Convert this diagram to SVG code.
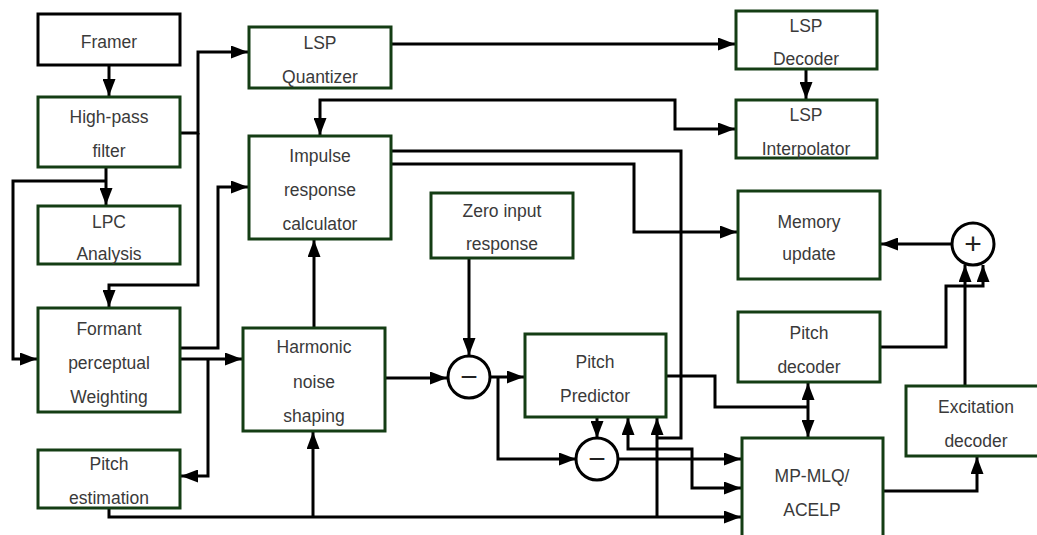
<svg xmlns="http://www.w3.org/2000/svg" width="1037" height="535" viewBox="0 0 1037 535">
<style>
.box{fill:#fff;stroke:#143d14;stroke-width:3}
.blk{fill:#fff;stroke:#000;stroke-width:3}
.t{font-family:"Liberation Sans",Arial,sans-serif;font-size:17.5px;fill:#3a3a3a;text-anchor:middle}
.c{fill:none;stroke:#000;stroke-width:3;marker-end:url(#ah)}
.n{fill:none;stroke:#000;stroke-width:3}
.b{marker-start:url(#ah)}
.op{fill:#fff;stroke:#000;stroke-width:3}
.sym{font-family:"Liberation Sans",Arial,sans-serif;font-size:30px;fill:#222;text-anchor:middle}
</style>
<defs>
<marker id="ah" markerWidth="17" markerHeight="13" refX="17" refY="6.5" orient="auto-start-reverse" markerUnits="userSpaceOnUse"><path d="M0,0 L17,6.5 L0,13 z" fill="#000"/></marker>
</defs>
<rect width="1037" height="535" fill="#fff"/>
<g id="connectors">
<path class="c" d="M109,65 V96"/>
<path class="c" d="M106,167 V205"/>
<path class="c" d="M106,181 H13 V359 H37"/>
<path class="c" d="M180,133 H198 V52 H248"/>
<path class="c" d="M198,133 V285 H109 V307"/>
<path class="c" d="M180,348 H218 V187 H248"/>
<path class="c" d="M180,359 H242"/>
<path class="c" d="M208,359 V476 H181"/>
<path class="c" d="M109,508 V517 H741"/>
<path class="c" d="M313,517 V432"/>
<path class="c" d="M314,328 V240"/>
<path class="c" d="M391,44 H735"/>
<path class="c" d="M806,69 V99"/>
<path class="c b" d="M320,135 V100 H675 V129 H735"/>
<path class="n" d="M391,151 H681 V438 H657"/>
<path class="c" d="M391,164 H634 V232 H737"/>
<path class="c" d="M469,258 V355"/>
<path class="c" d="M385,378 H447"/>
<path class="c" d="M490,377 H524"/>
<path class="c" d="M498,377 V459 H576"/>
<path class="c" d="M597,417 V438"/>
<path class="c" d="M618,459 H741"/>
<path class="c b" d="M628,418 V449 H692 V488 H741"/>
<path class="c" d="M657,517 V418"/>
<path class="n" d="M666,376 H715 V407 H808"/>
<path class="c b" d="M808,383 V437"/>
<path class="c" d="M880,347 H946 V286 H983 V265"/>
<path class="c" d="M965,386 V265"/>
<path class="c" d="M952,244 H881"/>
<path class="c" d="M883,491 H977 V457"/>
</g>
<g id="framer"><rect class="blk" x="38" y="14" width="142" height="51"/><text class="t" x="109" y="48">Framer</text></g>
<g id="highpass"><rect class="box" x="38" y="97" width="142" height="70"/><text class="t" x="109" y="123">High-pass</text><text class="t" x="109" y="157">filter</text></g>
<g id="lpc"><rect class="box" x="38" y="206" width="142" height="58"/><text class="t" x="109" y="228">LPC</text><text class="t" x="109" y="260">Analysis</text></g>
<g id="formant"><rect class="box" x="38" y="308" width="142" height="104"/><text class="t" x="109" y="335">Formant</text><text class="t" x="109" y="369">perceptual</text><text class="t" x="109" y="403">Weighting</text></g>
<g id="pitchest"><rect class="box" x="38" y="450" width="142" height="58"/><text class="t" x="109" y="470">Pitch</text><text class="t" x="109" y="504">estimation</text></g>
<g id="lspq"><rect class="box" x="249" y="27" width="142" height="61"/><text class="t" x="320" y="49">LSP</text><text class="t" x="320" y="83">Quantizer</text></g>
<g id="impulse"><rect class="box" x="249" y="136" width="142" height="103"/><text class="t" x="320" y="162">Impulse</text><text class="t" x="320" y="196">response</text><text class="t" x="320" y="230">calculator</text></g>
<g id="zero"><rect class="box" x="431" y="193" width="142" height="65"/><text class="t" x="502" y="217">Zero input</text><text class="t" x="502" y="250">response</text></g>
<g id="harmonic"><rect class="box" x="243" y="328" width="142" height="103"/><text class="t" x="314" y="353">Harmonic</text><text class="t" x="314" y="388">noise</text><text class="t" x="314" y="422">shaping</text></g>
<g id="minus1"><circle class="op" cx="469" cy="377" r="21"/><text class="sym" x="469" y="387">−</text></g>
<g id="predictor"><rect class="box" x="525" y="334" width="141" height="83"/><text class="t" x="595" y="368">Pitch</text><text class="t" x="595" y="402">Predictor</text></g>
<g id="minus2"><circle class="op" cx="597" cy="459" r="21"/><text class="sym" x="597" y="469">−</text></g>
<g id="lspdec"><rect class="box" x="736" y="11" width="141" height="58"/><text class="t" x="806" y="32">LSP</text><text class="t" x="806" y="65">Decoder</text></g>
<g id="lspint"><rect class="box" x="736" y="100" width="141" height="58"/><text class="t" x="806" y="121">LSP</text><text class="t" x="806" y="155">Interpolator</text></g>
<g id="memory"><rect class="box" x="738" y="191" width="142" height="88"/><text class="t" x="809" y="228">Memory</text><text class="t" x="809" y="260">update</text></g>
<g id="plus"><circle class="op" cx="973" cy="244" r="21"/><text class="sym" x="973" y="254">+</text></g>
<g id="pitchdec"><rect class="box" x="738" y="312" width="142" height="70"/><text class="t" x="809" y="339">Pitch</text><text class="t" x="809" y="373">decoder</text></g>
<g id="excitation"><rect class="box" x="906" y="386" width="142" height="70"/><text class="t" x="976" y="413">Excitation</text><text class="t" x="976" y="447">decoder</text></g>
<g id="mpmlq"><rect class="box" x="742" y="438" width="141" height="110"/><text class="t" x="812" y="482">MP-MLQ/</text><text class="t" x="812" y="516">ACELP</text></g>
</svg>
